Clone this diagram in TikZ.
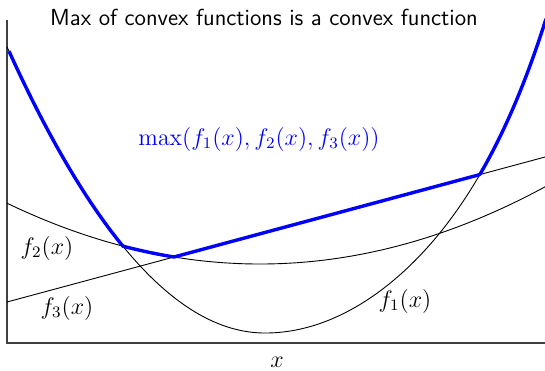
\documentclass[tikz,border=0pt]{standalone}
\begin{document}
\begin{tikzpicture}[x=0.5pt,y=-0.5pt,
  declare function={
    fone(\x)=(\x<265) ? (333-43*((\x-265)/100)^2) : (333-31.5*((\x-265)/100)^2-0.133*((\x-265)/100)^6);
    ftwo(\x)=264-9.5*((\x-260)/100)^2;
    fthree(\x)=302-0.2695*(\x-7);
  },
  axisline/.style={draw=black!75, line width=0.6pt},
  fcurve/.style={draw=black, line width=0.45pt},
  maxcurve/.style={draw=blue, line width=1.7pt, line join=round},
  flabel/.style={inner sep=0pt, anchor=center, font=\fontsize{11.9}{14}\selectfont}]
\useasboundingbox (0,0) rectangle (545,370);
\begin{scope}
\clip (0,0) rectangle (545,370);
\draw[axisline] (7,20) -- (7,343) -- (545,343);
\draw[fcurve] plot[domain=7:545, samples=300] (\x,{fone(\x)});
\draw[fcurve] plot[domain=7:545, samples=150] (\x,{ftwo(\x)});
\draw[fcurve] plot[domain=7:545, samples=2] (\x,{fthree(\x)});
\draw[maxcurve] plot[domain=9:546, samples=500] (\x,{min(fone(\x),ftwo(\x),fthree(\x))});
\end{scope}
\node[inner sep=0pt, anchor=center, font=\sffamily\fontsize{11.6}{14}\selectfont] (title) at (264,17) {Max of convex functions is a convex function};
\node[flabel, text=blue] (maxlab) at (259,139) {$\max(f_1(x),f_2(x),f_3(x))$};
\node[flabel] (lab2) at (47,248) {$f_2(x)$};
\node[flabel] (lab3) at (67,308) {$f_3(x)$};
\node[flabel] (lab1) at (405,301) {$f_1(x)$};
\node[flabel] (labx) at (277,362) {$x$};
\end{tikzpicture}
\end{document}
